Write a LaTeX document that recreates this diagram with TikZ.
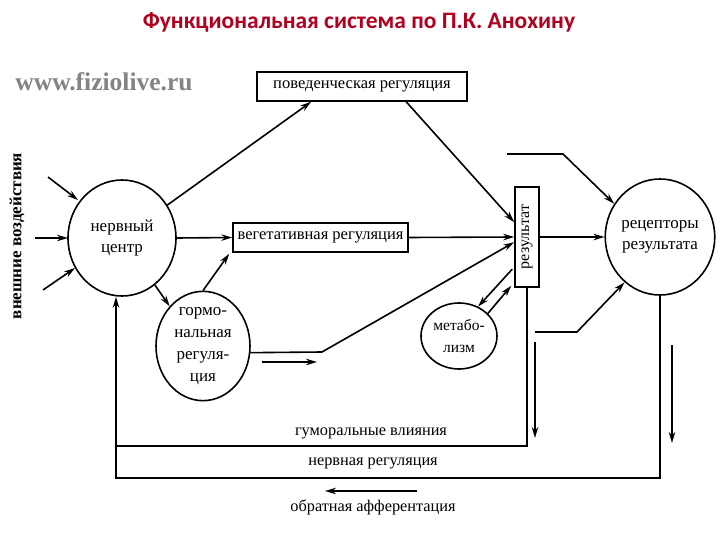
\documentclass[tikz,border=0pt]{standalone}
\usepackage{fontspec}
\setmainfont{Liberation Serif}
\newfontfamily\titlefont{Carlito}
\usetikzlibrary{shapes.geometric,arrows.meta,calc}
\definecolor{titlered}{RGB}{176,0,32}
\definecolor{wmgray}{RGB}{132,132,132}
\begin{document}
\begin{tikzpicture}[x=1pt,y=-1pt,
  line width=1.6pt,
  arr/.style={-{Stealth[length=11pt,width=6.5pt]}},
  circ/.style={draw,ellipse,inner sep=0pt,align=center,font=\fontsize{17}{21}\selectfont},
  boxn/.style={draw,rectangle,inner sep=0pt,font=\fontsize{16.5}{18}\selectfont},
  lbl/.style={font=\fontsize{16.3}{18}\selectfont}]
\useasboundingbox (0,0) rectangle (720,540);
% title & watermark
\node[font=\titlefont\bfseries\fontsize{23.5}{26}\selectfont,text=titlered] (title) at (359,22) {Функциональная система по П.К. Анохину};
\node[font=\bfseries\fontsize{25.5}{28}\selectfont,text=wmgray] (wm) at (104,82) {www.fiziolive.ru};
\node[rotate=90,font=\bfseries\fontsize{17}{19}\selectfont] (ext) at (17,236) {внешние воздействия};
% nodes
\node[circ,minimum width=108,minimum height=116] (nc) at (122,238) {нервный\\центр};
\node[circ,minimum width=94,minimum height=96,font=\fontsize{17}{22}\selectfont] (hr) at (203,346) {гормо-\\нальная\\регуля-\\ция};
\node[circ,minimum width=76,minimum height=66,font=\fontsize{15.5}{22}\selectfont] (mb) at (459,336) {метабо-\\лизм};
\node[circ,minimum width=106,minimum height=116] (rr) at (660,237) {рецепторы\\результата};
\node[boxn,minimum width=210,minimum height=29] (beh) at (362,86.5) {поведенческая регуляция};
\node[boxn,minimum width=175,minimum height=29] (veg) at (320.5,237.5) {вегетативная регуляция};
\node[boxn,minimum width=24,minimum height=100,font=\fontsize{16}{18}\selectfont] (res) at (527,237) {\rotatebox{90}{результат}};
% coordinates
\coordinate (in1) at (48,177);  \coordinate (in1e) at (78,200);
\coordinate (in2) at (35,238);  \coordinate (in2e) at (68,238);
\coordinate (in3) at (43,290);  \coordinate (in3e) at (75,268);
\coordinate (hk) at (322,352);
\coordinate (sa1) at (262,362); \coordinate (sa2) at (317,362);
\coordinate (ti1) at (507,154); \coordinate (ti2) at (563,154);
\coordinate (bi1) at (535,332); \coordinate (bi2) at (577,332);
\coordinate (c446) at (116,446);
\coordinate (c478) at (116,478);
\coordinate (da1a) at (535,342); \coordinate (da1b) at (535,438);
\coordinate (da2a) at (672,345); \coordinate (da2b) at (672,443);
\coordinate (la1) at (417,491); \coordinate (la2) at (325,491);
% connectors
\draw[arr] (in1) -- (in1e);
\draw[arr] (in2) -- (in2e);
\draw[arr] (in3) -- (in3e);
\draw[arr] (nc.36) -- ($(beh.south west)+(55,0)$);
\draw[arr] (nc.east) -- (veg.west);
\draw[arr] ($(beh.south west)+(150,0)$) -- ($(res.north west)+(0,36)$);
\draw[arr] (veg.east) -- (res.west);
\draw[arr] (nc.-55) -- (hr.130);
\draw[arr] (hr.north) -- ($(veg.south west)+(-3,1)$);
\draw[arr] (hr.-8) -- (hk) -- ($(res.north west)+(0,56)$);
\draw[arr] (sa1) -- (sa2);
\draw[arr] ($(res.north west)+(-2,83)$) -- (mb.57);
\draw[arr] (mb.38) -- ($(res.south west)+(-3,-2)$);
\draw[arr] (res.east) -- (rr.west);
\draw[arr] (ti1) -- (ti2) -- (rr.144);
\draw[arr] (bi1) -- (bi2) -- (rr.-128);
\draw (res.south) |- (c446);
\draw[arr] (rr.south) |- (c478) -- (nc.south -| c478);
\draw[arr] (da1a) -- (da1b);
\draw[arr] (da2a) -- (da2b);
\draw[arr] (la1) -- (la2);
% labels
\node[lbl] (hum) at (371,433) {гуморальные влияния};
\node[lbl] (ner) at (373,463) {нервная регуляция};
\node[lbl] (obr) at (373,507) {обратная афферентация};
\end{tikzpicture}
\end{document}
